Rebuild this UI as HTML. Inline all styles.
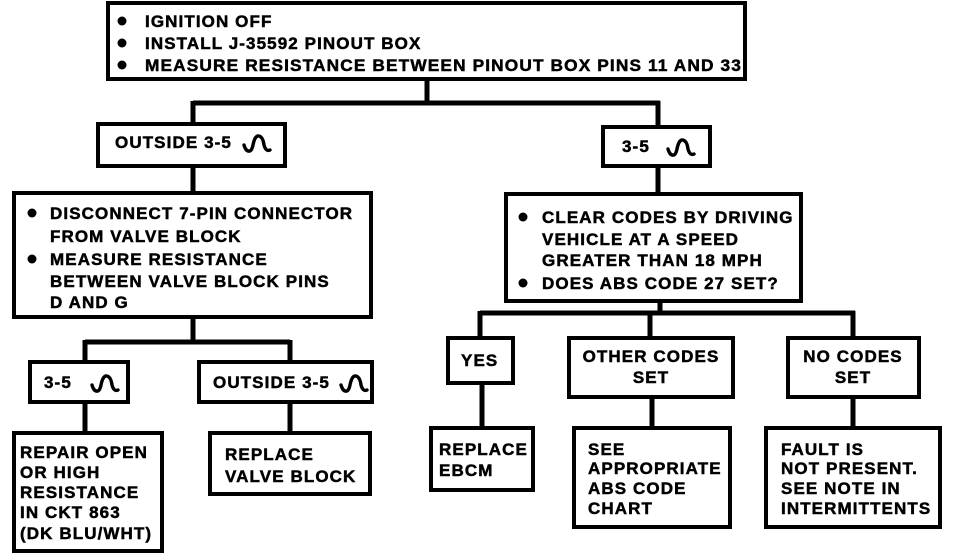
<!DOCTYPE html>
<html><head><meta charset="utf-8"><style>
html,body{margin:0;padding:0;background:#fff;}
svg{display:block}
text{font-family:"Liberation Sans",Arial,sans-serif;font-weight:bold;font-size:17px;letter-spacing:1.1px;fill:#000;stroke:#000;stroke-width:0.5}
.b{fill:none;stroke:#000;stroke-width:4}
.l{fill:none;stroke:#000;stroke-width:5}
.w{fill:none;stroke:#000;stroke-width:3.4;stroke-linecap:round;stroke-linejoin:round}
</style></head><body>
<svg width="960" height="554" viewBox="0 0 960 554" xmlns="http://www.w3.org/2000/svg">
<defs>
<g id="wv"><path class="w" d="M0,6 Q2,13 6,12 Q8,11 9,6 Q11,-4 15,-3 Q19,-2 20,6 Q22,13 26,11"/></g>
</defs>
<path class="l" d="M427,80 V103 M193,103 H660 M193,101 V124 M658,101 V126"/>
<path class="l" d="M193,166 V192 M658,166 V193"/>
<path class="l" d="M193,318 V342 M85,342 H290 M85,340 V362 M290,340 V362"/>
<path class="l" d="M85,402 V432 M290,402 V433"/>
<path class="l" d="M660,302 V313 M480,313 H855 M480,311 V337 M650,311 V337 M853,311 V337"/>
<path class="l" d="M482,383 V427 M652,397 V427 M853,397 V427"/>
<rect class="b" x="108" y="3" width="637" height="76"/>
<rect class="b" x="98" y="124" width="187" height="42"/>
<rect class="b" x="14" y="193" width="357" height="124"/>
<rect class="b" x="30" y="362" width="98" height="40"/>
<rect class="b" x="199" y="362" width="173" height="40"/>
<rect class="b" x="14" y="433" width="148" height="118"/>
<rect class="b" x="210" y="433" width="160" height="61"/>
<rect class="b" x="603" y="127" width="107" height="39"/>
<rect class="b" x="506" y="194" width="295" height="107"/>
<rect class="b" x="448" y="338" width="65" height="45"/>
<rect class="b" x="569" y="338" width="164" height="59"/>
<rect class="b" x="788" y="338" width="131" height="59"/>
<rect class="b" x="431" y="428" width="102" height="62"/>
<rect class="b" x="574" y="428" width="156" height="99"/>
<rect class="b" x="766" y="428" width="174" height="99"/>
<circle cx="122" cy="21" r="4.5"/><circle cx="122" cy="43" r="4.5"/><circle cx="122" cy="65" r="4.5"/>
<text x="145" y="27">IGNITION OFF</text>
<text x="145" y="49">INSTALL J-35592 PINOUT BOX</text>
<text x="145" y="71" textLength="597" lengthAdjust="spacingAndGlyphs">MEASURE RESISTANCE BETWEEN PINOUT BOX PINS 11 AND 33</text>
<text x="115" y="148">OUTSIDE 3-5</text><use href="#wv" x="244" y="139"/>
<circle cx="32" cy="213" r="4.5"/><circle cx="32" cy="259" r="4.5"/>
<text x="50" y="219">DISCONNECT 7-PIN CONNECTOR</text>
<text x="50" y="242">FROM VALVE BLOCK</text>
<text x="50" y="265">MEASURE RESISTANCE</text>
<text x="50" y="287">BETWEEN VALVE BLOCK PINS</text>
<text x="50" y="308">D AND G</text>
<text x="44" y="388">3-5</text><use href="#wv" x="92" y="379"/>
<text x="213" y="388">OUTSIDE 3-5</text><use href="#wv" x="341" y="379"/>
<text x="20" y="458">REPAIR OPEN</text>
<text x="20" y="478">OR HIGH</text>
<text x="20" y="498">RESISTANCE</text>
<text x="20" y="518">IN CKT 863</text>
<text x="20" y="539">(DK BLU/WHT)</text>
<text x="225" y="460">REPLACE</text>
<text x="225" y="482">VALVE BLOCK</text>
<text x="622" y="152">3-5</text><use href="#wv" x="668" y="143"/>
<circle cx="523" cy="217" r="4.5"/><circle cx="523" cy="283" r="4.5"/>
<text x="542" y="223">CLEAR CODES BY DRIVING</text>
<text x="542" y="245">VEHICLE AT A SPEED</text>
<text x="542" y="266">GREATER THAN 18 MPH</text>
<text x="542" y="289">DOES ABS CODE 27 SET?</text>
<text x="461" y="366">YES</text>
<text x="651" y="362" text-anchor="middle">OTHER CODES</text>
<text x="651" y="383" text-anchor="middle">SET</text>
<text x="853" y="362" text-anchor="middle">NO CODES</text>
<text x="853" y="383" text-anchor="middle">SET</text>
<text x="439" y="455">REPLACE</text>
<text x="439" y="476">EBCM</text>
<text x="588" y="455">SEE</text>
<text x="588" y="474">APPROPRIATE</text>
<text x="588" y="494">ABS CODE</text>
<text x="588" y="514">CHART</text>
<text x="781" y="455">FAULT IS</text>
<text x="781" y="474">NOT PRESENT.</text>
<text x="781" y="494">SEE NOTE IN</text>
<text x="781" y="514">INTERMITTENTS</text>
</svg>
</body></html>
